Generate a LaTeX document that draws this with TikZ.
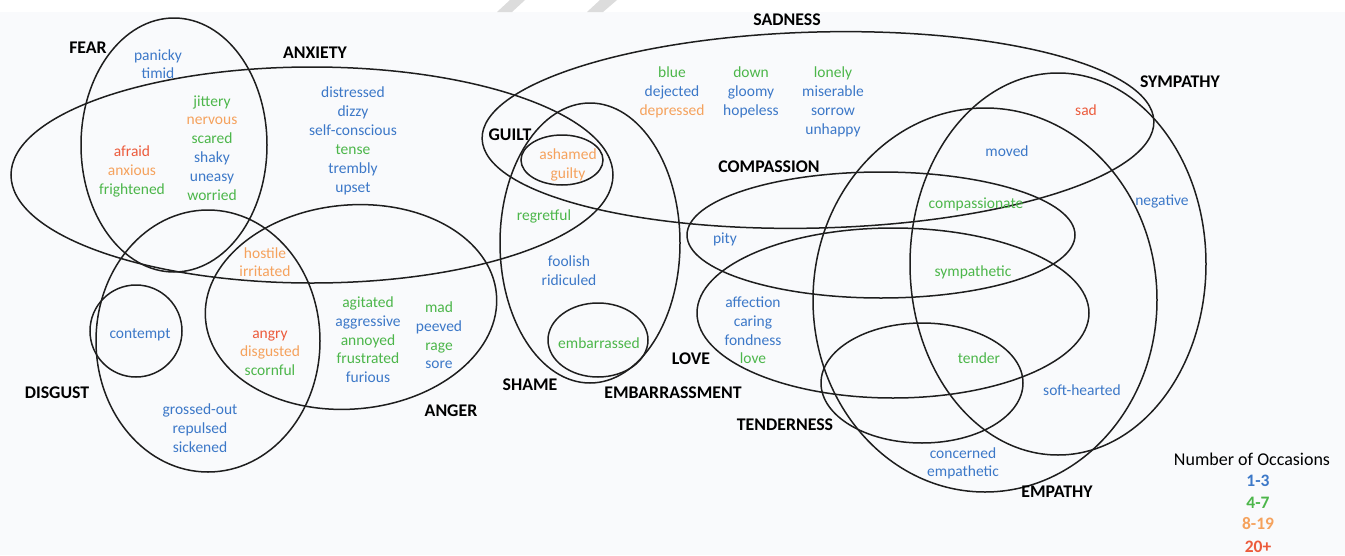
\documentclass[tikz,border=0pt]{standalone}
\usepackage{fontspec}
\setmainfont{Carlito}
\definecolor{cb}{HTML}{3C78C8}
\definecolor{cg}{HTML}{4CB64A}
\definecolor{co}{HTML}{F5A25D}
\definecolor{cr}{HTML}{EC5B3C}
\definecolor{bgc}{HTML}{F9FAFC}
\definecolor{linec}{HTML}{1E1E1E}
\definecolor{wmark}{HTML}{DCDCDC}
\begin{document}
\begin{tikzpicture}[x=1pt,y=-1pt,
  ell/.style={draw=linec,line width=1.5pt},
  lab/.style={font=\fontsize{17.8}{20}\selectfont\bfseries,text=black,anchor=base,inner sep=0pt},
  word/.style={font=\fontsize{15.5}{19}\selectfont,anchor=base,inner sep=0pt},
  leg/.style={font=\fontsize{17.5}{20}\selectfont\bfseries,anchor=base,inner sep=0pt}]
\useasboundingbox (0,0) rectangle (1345,555);
\fill[white] (0,0) rectangle (1345,555);
\fill[bgc] (0,12) rectangle (1345,555);
\fill[wmark] (497,12) -- (512,12) -- (525,0) -- (510,0) -- cycle;
\fill[wmark] (587,12) -- (603,12) -- (617,0) -- (600,0) -- cycle;
% ellipses
\draw[ell] (174,145) ellipse [x radius=93pt, y radius=127pt];
\draw[ell] (312,175) ellipse [x radius=301pt, y radius=108pt];
\draw[ell] (208,341) ellipse [x radius=112pt, y radius=131pt];
\draw[ell] (136,331) ellipse [x radius=46pt, y radius=46pt];
\draw[ell, rotate around={5:(351,307)}] (351,307) ellipse [x radius=146pt, y radius=102pt];
\draw[ell] (562,160) ellipse [x radius=41pt, y radius=25pt];
\draw[ell] (590,243) ellipse [x radius=90pt, y radius=140pt];
\draw[ell] (598,340) ellipse [x radius=50pt, y radius=37pt];
\draw[ell, rotate around={1.5:(818,130)}] (818,130) ellipse [x radius=336pt, y radius=98pt];
\draw[ell] (881,235) ellipse [x radius=194pt, y radius=63pt];
\draw[ell] (893,313) ellipse [x radius=196pt, y radius=85pt];
\draw[ell] (922,383) ellipse [x radius=101pt, y radius=60pt];
\draw[ell] (1058,264) ellipse [x radius=148pt, y radius=191pt];
\draw[ell] (985,300) ellipse [x radius=172pt, y radius=192pt];
% labels
\node[lab] (lfear) at (88,53.5) {FEAR};
\node[lab] (lanx) at (315,58.5) {ANXIETY};
\node[lab] (lsad) at (787,25.5) {SADNESS};
\node[lab] (lsym) at (1180,87.5) {SYMPATHY};
\node[lab] (lguilt) at (510,140.5) {GUILT};
\node[lab] (lcomp) at (769,172.5) {COMPASSION};
\node[lab] (llove) at (691,364.5) {LOVE};
\node[lab] (lshame) at (530,390.5) {SHAME};
\node[lab] (lemb) at (673,398.5) {EMBARRASSMENT};
\node[lab] (ldis) at (57,398.5) {DISGUST};
\node[lab] (lang) at (451,416.5) {ANGER};
\node[lab] (lten) at (785,430.5) {TENDERNESS};
\node[lab] (lemp) at (1057,497.5) {EMPATHY};
% words
\node[word,text=cb] (w1) at (158,60) {panicky};
\node[word,text=cb] (w2) at (158,78) {timid};
\node[word,text=cg] (w3) at (212,106) {jittery};
\node[word,text=co] (w4) at (212,124) {nervous};
\node[word,text=cg] (w5) at (212,143) {scared};
\node[word,text=cb] (w6) at (212,162) {shaky};
\node[word,text=cb] (w7) at (212,181) {uneasy};
\node[word,text=cg] (w8) at (212,200) {worried};
\node[word,text=cr] (w9) at (132,156) {afraid};
\node[word,text=co] (w10) at (132,175) {anxious};
\node[word,text=cg] (w11) at (132,194) {frightened};
\node[word,text=cb] (w12) at (353,97) {distressed};
\node[word,text=cb] (w13) at (353,116) {dizzy};
\node[word,text=cb] (w14) at (353,135) {self-conscious};
\node[word,text=cg] (w15) at (353,154) {tense};
\node[word,text=cb] (w16) at (353,173) {trembly};
\node[word,text=cb] (w17) at (353,192) {upset};
\node[word,text=co] (w18) at (265,258) {hostile};
\node[word,text=co] (w19) at (265,276) {irritated};
\node[word,text=cb] (w20) at (140,338) {contempt};
\node[word,text=cr] (w21) at (270,338) {angry};
\node[word,text=co] (w22) at (270,356) {disgusted};
\node[word,text=cg] (w23) at (270,375) {scornful};
\node[word,text=cg] (w24) at (368,307) {agitated};
\node[word,text=cb] (w25) at (368,326) {aggressive};
\node[word,text=cg] (w26) at (368,345) {annoyed};
\node[word,text=cg] (w27) at (368,363) {frustrated};
\node[word,text=cb] (w28) at (368,382) {furious};
\node[word,text=cg] (w29) at (439,312) {mad};
\node[word,text=cb] (w30) at (439,331) {peeved};
\node[word,text=cg] (w31) at (439,350) {rage};
\node[word,text=cb] (w32) at (439,368) {sore};
\node[word,text=cb] (w33) at (200,414) {grossed-out};
\node[word,text=cb] (w34) at (200,433) {repulsed};
\node[word,text=cb] (w35) at (200,452) {sickened};
\node[word,text=cg] (w36) at (672,77) {blue};
\node[word,text=cb] (w37) at (672,96) {dejected};
\node[word,text=co] (w38) at (672,115) {depressed};
\node[word,text=cg] (w39) at (751,77) {down};
\node[word,text=cb] (w40) at (751,96) {gloomy};
\node[word,text=cb] (w41) at (751,115) {hopeless};
\node[word,text=cg] (w42) at (833,77) {lonely};
\node[word,text=cb] (w43) at (833,96) {miserable};
\node[word,text=cb] (w44) at (833,115) {sorrow};
\node[word,text=cb] (w45) at (833,134) {unhappy};
\node[word,text=co] (w46) at (568,159) {ashamed};
\node[word,text=co] (w47) at (568,178) {guilty};
\node[word,text=cg] (w48) at (544,220) {regretful};
\node[word,text=cb] (w49) at (725,243) {pity};
\node[word,text=cb] (w50) at (569,266) {foolish};
\node[word,text=cb] (w51) at (569,285) {ridiculed};
\node[word,text=cg] (w52) at (599,348) {embarrassed};
\node[word,text=cb] (w53) at (753,307) {affection};
\node[word,text=cb] (w54) at (753,326) {caring};
\node[word,text=cb] (w55) at (753,345) {fondness};
\node[word,text=cg] (w56) at (753,363) {love};
\node[word,text=cr] (w57) at (1086,115) {sad};
\node[word,text=cb] (w58) at (1007,156) {moved};
\node[word,text=cg] (w59) at (976,208) {compassionate};
\node[word,text=cb] (w60) at (1162,205) {negative};
\node[word,text=cg] (w61) at (973,276) {sympathetic};
\node[word,text=cg] (w62) at (979,363) {tender};
\node[word,text=cb] (w63) at (1082,395) {soft-hearted};
\node[word,text=cb] (w64) at (963,458) {concerned};
\node[word,text=cb] (w65) at (963,476) {empathetic};
% legend
\node[font=\fontsize{18}{20}\selectfont,anchor=base,inner sep=0pt] (legt) at (1252,465) {Number of Occasions};
\node[leg,text=cb] (lg1) at (1258,486) {1-3};
\node[leg,text=cg] (lg2) at (1258,508) {4-7};
\node[leg,text=co] (lg3) at (1258,529) {8-19};
\node[leg,text=cr] (lg4) at (1258,552) {20+};
\end{tikzpicture}
\end{document}
